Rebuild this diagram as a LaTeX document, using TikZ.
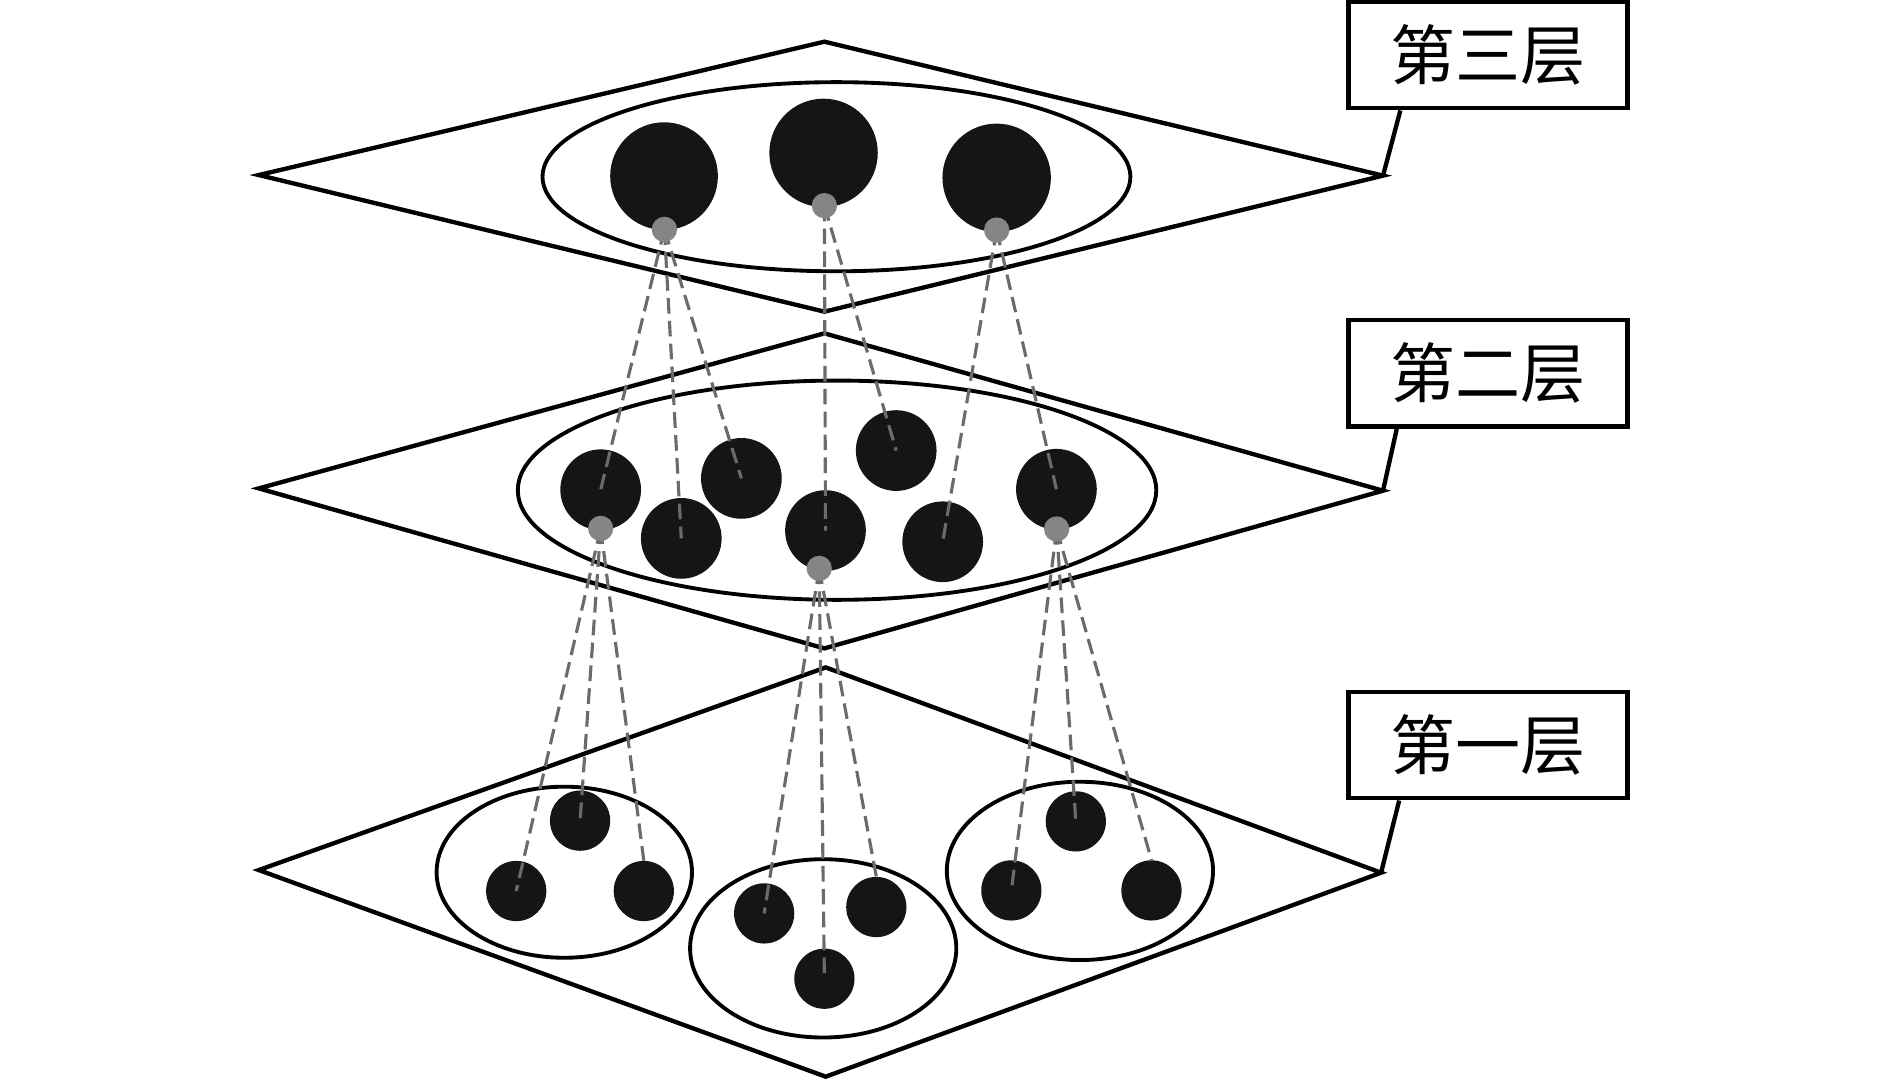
\documentclass[tikz,border=0pt]{standalone}
\usepackage{fontspec}
\newfontfamily\cjkfont{Noto Sans CJK SC}
\usetikzlibrary{shapes.geometric}
\definecolor{dotblack}{HTML}{151515}
\definecolor{linkgray}{HTML}{6B6B6B}
\definecolor{knotgray}{HTML}{858585}
\begin{document}
\begin{tikzpicture}[x=1pt,y=-1pt,
  plane/.style={line width=3.6pt, line join=miter},
  ring/.style={draw, ellipse, line width=3.2pt, inner sep=0pt},
  bigdot/.style={circle, fill=dotblack, inner sep=0pt, minimum size=#1},
  link/.style={draw=linkgray, line width=2.6pt, dash pattern=on 13pt off 6pt},
  knot/.style={circle, fill=knotgray, inner sep=0pt, minimum size=21pt},
  labelbox/.style={draw, line width=3.6pt, minimum width=231.6pt, minimum height=88.5pt, inner sep=0pt, font=\cjkfont\fontsize{54}{60}\selectfont},
  tie/.style={line width=3.6pt}
]
\useasboundingbox (0,0) rectangle (1568,896);

% planes
\coordinate (P3l) at (214.8,145.3);
\coordinate (P3t) at (684.3,34.6);
\coordinate (P3r) at (1148,145.8);
\coordinate (P3b) at (684.3,258.7);
\coordinate (P2l) at (214.8,405.4);
\coordinate (P2t) at (684.3,276.7);
\coordinate (P2r) at (1148,407.3);
\coordinate (P2b) at (684.3,538.2);
\coordinate (P1l) at (214.8,722.2);
\coordinate (P1t) at (685.4,554);
\coordinate (P1r) at (1146.4,724.4);
\coordinate (P1b) at (685.4,893.7);
\draw[plane] (P3l) -- (P3t) -- (P3r) -- (P3b) -- cycle;
\draw[plane] (P2l) -- (P2t) -- (P2r) -- (P2b) -- cycle;
\draw[plane] (P1l) -- (P1t) -- (P1r) -- (P1b) -- cycle;

% rings
\node[ring, minimum width=488pt, minimum height=157pt] (E3) at (694.3,146.7) {};
\node[ring, minimum width=530pt, minimum height=182pt] (E2) at (694.8,406.9) {};
\node[ring, minimum width=212pt, minimum height=142pt] (EA) at (468.4,724) {};
\node[ring, minimum width=221pt, minimum height=148pt] (EB) at (683.3,787.2) {};
\node[ring, minimum width=221pt, minimum height=148pt] (EC) at (896.4,722.9) {};

% top layer dots
\node[bigdot=89.4pt] (t1) at (551.2,146.2) {};
\node[bigdot=90pt] (t2) at (683.6,126.9) {};
\node[bigdot=90pt] (t3) at (827.3,147.6) {};

% middle layer dots
\node[bigdot=67pt] (m1) at (498.6,406.5) {};
\node[bigdot=67pt] (m2) at (565.5,446.9) {};
\node[bigdot=67pt] (m3) at (615.4,397.1) {};
\node[bigdot=67pt] (m4) at (685.2,440.4) {};
\node[bigdot=67pt] (m5) at (743.9,374) {};
\node[bigdot=67pt] (m6) at (782.5,449.7) {};
\node[bigdot=67pt] (m7) at (876.9,406.1) {};

% bottom layer dots
\node[bigdot=50pt] (a1) at (481.5,681.2) {};
\node[bigdot=50pt] (a2) at (428.5,739.6) {};
\node[bigdot=50pt] (a3) at (534.4,739.6) {};
\node[bigdot=50pt] (b1) at (634.3,758.2) {};
\node[bigdot=50pt] (b2) at (727.4,752.9) {};
\node[bigdot=50pt] (b3) at (684.3,812.4) {};
\node[bigdot=50pt] (c1) at (893,681.8) {};
\node[bigdot=50pt] (c2) at (839.5,739.1) {};
\node[bigdot=50pt] (c3) at (955.8,739.1) {};

% gray knots positions
\coordinate (g31) at (551.5,190.4);
\coordinate (g32) at (684.3,170.7);
\coordinate (g33) at (827.3,190.9);
\coordinate (g21) at (498.6,438.6);
\coordinate (g22) at (680,471.8);
\coordinate (g23) at (877.1,439.1);

% links top -> middle
\draw[link] (g31) -- (m1.center);
\draw[link] (g31) -- (m2.center);
\draw[link] (g31) -- (m3.center);
\draw[link] (g32) -- (m4.center);
\draw[link] (g32) -- (m5.center);
\draw[link] (g33) -- (m6.center);
\draw[link] (g33) -- (m7.center);

% links middle -> bottom
\draw[link] (g21) -- (a1.center);
\draw[link] (g21) -- (a2.center);
\draw[link] (g21) -- (a3.north);
\draw[link] (g22) -- (b1.center);
\draw[link] (g22) -- (b3.center);
\draw[link] (g22) -- (b2.north);
\draw[link] (g23) -- (c1.center);
\draw[link] (g23) -- (c2.center);
\draw[link] (g23) -- (c3.north);

% knots
\node[knot] (k31) at (g31) {};
\node[knot] (k32) at (g32) {};
\node[knot] (k33) at (g33) {};
\node[knot] (k21) at (g21) {};
\node[knot] (k22) at (g22) {};
\node[knot] (k23) at (g23) {};

% labels
\node[labelbox] (L3) at (1235,45.6) {第三层};
\node[labelbox] (L2) at (1235,309.9) {第二层};
\node[labelbox] (L1) at (1235,618.4) {第一层};
\draw[tie] ([xshift=45pt]L3.south west) -- (P3r);
\draw[tie] ([xshift=42pt]L2.south west) -- (P2r);
\draw[tie] ([xshift=44pt]L1.south west) -- (P1r);
\end{tikzpicture}
\end{document}
